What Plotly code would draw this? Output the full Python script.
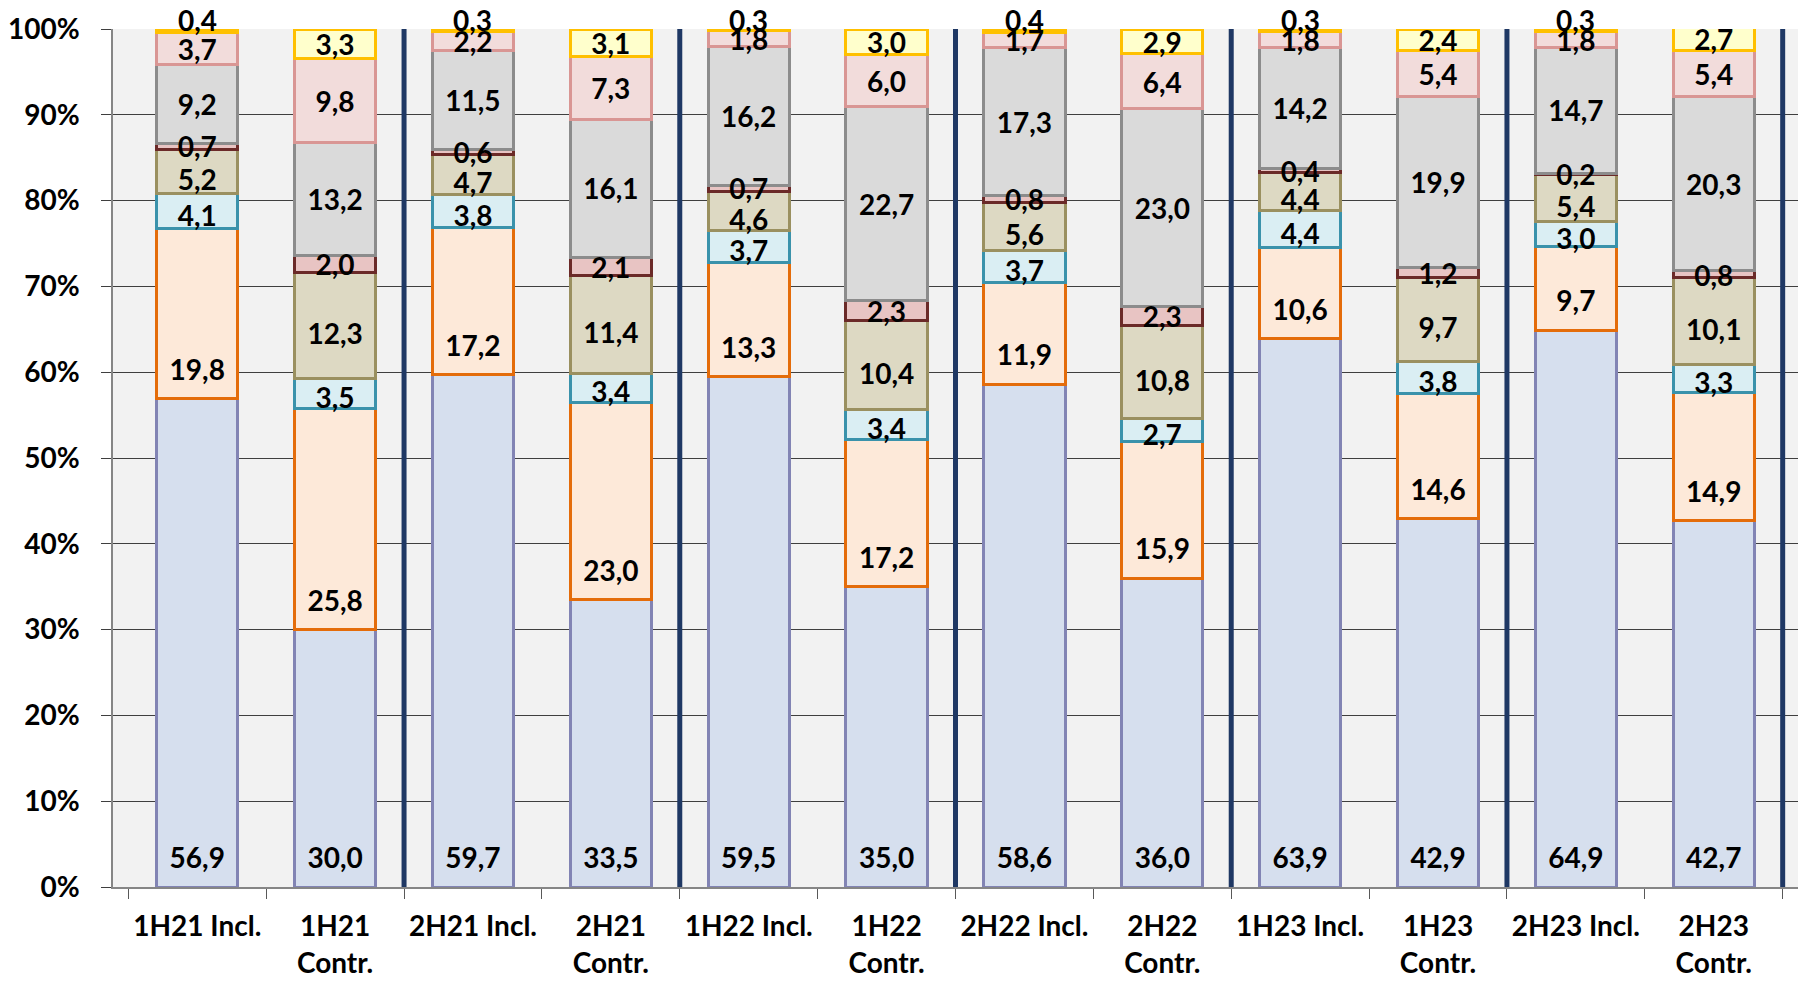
import plotly.graph_objects as go

categories = ["1H21 Incl.", "1H21<br>Contr.", "2H21 Incl.", "2H21<br>Contr.",
              "1H22 Incl.", "1H22<br>Contr.", "2H22 Incl.", "2H22<br>Contr.",
              "1H23 Incl.", "1H23<br>Contr.", "2H23 Incl.", "2H23<br>Contr."]

s1 = [56.9, 30.0, 59.7, 33.5, 59.5, 35.0, 58.6, 36.0, 63.9, 42.9, 64.9, 42.7]
s2 = [19.8, 25.8, 17.2, 23.0, 13.3, 17.2, 11.9, 15.9, 10.6, 14.6, 9.7, 14.9]
s3 = [4.1, 3.5, 3.8, 3.4, 3.7, 3.4, 3.7, 2.7, 4.4, 3.8, 3.0, 3.3]
s4 = [5.2, 12.3, 4.7, 11.4, 4.6, 10.4, 5.6, 10.8, 4.4, 9.7, 5.4, 10.1]
s5 = [0.7, 2.0, 0.6, 2.1, 0.7, 2.3, 0.8, 2.3, 0.4, 1.2, 0.2, 0.8]
s6 = [9.2, 13.2, 11.5, 16.1, 16.2, 22.7, 17.3, 23.0, 14.2, 19.9, 14.7, 20.3]
s7 = [3.7, 9.8, 2.2, 7.3, 1.8, 6.0, 1.7, 6.4, 1.8, 5.4, 1.8, 5.4]
s8 = [0.4, 3.3, 0.3, 3.1, 0.3, 3.0, 0.4, 2.9, 0.3, 2.4, 0.3, 2.7]

y_ticks = list(range(0, 101, 10))
group_size = 2

# (values, fill, edge, label placement, label nudge in axis units)
series = [
    (s1, "#d6dfee", "#8284b4", "base", 0.0),
    (s2, "#fde9d9", "#e46c0a", "base", 0.0),
    (s3, "#daeef3", "#3a92ab", "middle", -0.9),
    (s4, "#ddd9c3", "#9a9060", "middle", -1.4),
    (s5, "#e8c4c3", "#6b2a28", "middle", -0.5),
    (s6, "#dadada", "#8c8c8c", "middle", -0.5),
    (s7, "#f2dcdb", "#d99694", "middle", -0.5),
    (s8, "#ffffcc", "#ffc000", "top", -0.5),
]

FONT = "Lato"
BASE_PAD = 3.0     # label offset above segment bottom (axis units)
TOP_SHIFT = 9      # px: small top labels sit just above the stack
LABEL_FONT = dict(family=FONT, size=28, color="black", weight="bold")

fig = go.Figure()
cum = [0.0] * len(categories)
mid_x, mid_y, mid_t = [], [], []
annotations = []
for vals, fill, edge, place, nudge in series:
    fig.add_trace(go.Bar(
        x=categories, y=vals,
        marker=dict(color=fill, line=dict(color=edge, width=3)),
        hoverinfo="skip", showlegend=False,
    ))
    for j, v in enumerate(vals):
        b = cum[j]
        txt = f"{v:.1f}".replace(".", ",")
        if place == "top" and v < 1:
            annotations.append(dict(
                x=categories[j], y=min(round(b + v, 6), 100),
                xref="x", yref="y", yshift=TOP_SHIFT,
                text=txt, showarrow=False, yanchor="middle",
                font=LABEL_FONT))
        else:
            yy = b + BASE_PAD if place == "base" else b + v / 2 + nudge
            mid_x.append(categories[j])
            mid_y.append(yy)
            mid_t.append(txt)
        cum[j] = b + v

fig.add_trace(go.Scatter(
    x=mid_x, y=mid_y, text=mid_t, mode="text",
    textposition="middle center", cliponaxis=False,
    textfont=LABEL_FONT, hoverinfo="skip", showlegend=False,
))

shapes = []
for g in range(1, len(categories) // group_size + 1):
    xpos = g * group_size - 0.5
    shapes.append(dict(type="line", xref="x", yref="y", x0=xpos, x1=xpos,
                       y0=-0.6, y1=100, line=dict(color="#1f3864", width=5),
                       layer="above"))

fig.update_layout(
    width=1811, height=973,
    barmode="stack", bargap=0.41,
    plot_bgcolor="#f2f2f2", paper_bgcolor="white",
    margin=dict(l=105, r=21, t=21, b=94, autoexpand=False),
    font=dict(family=FONT, size=28, color="black", weight="bold"),
    shapes=shapes, annotations=annotations,
)
fig.update_xaxes(
    showline=True, linecolor="#868686", linewidth=1.5,
    ticks="outside", tickson="boundaries", ticklen=10, tickcolor="#595959",
    tickfont=dict(family=FONT, size=28, color="black", weight="bold"),
    ticklabelstandoff=14, showgrid=False, automargin=False,
)
fig.update_yaxes(
    range=[0, 100], tickvals=y_ticks, ticktext=[f"{t}%" for t in y_ticks],
    showgrid=True, gridcolor="#3f3f3f", gridwidth=1,
    showline=True, linecolor="#868686", linewidth=1.5,
    ticks="outside", ticklen=10, tickcolor="#3f3f3f",
    tickfont=dict(family=FONT, size=28, color="black", weight="bold"),
    ticklabelstandoff=16, zeroline=False, automargin=False,
)

fig.write_html("out.html")
